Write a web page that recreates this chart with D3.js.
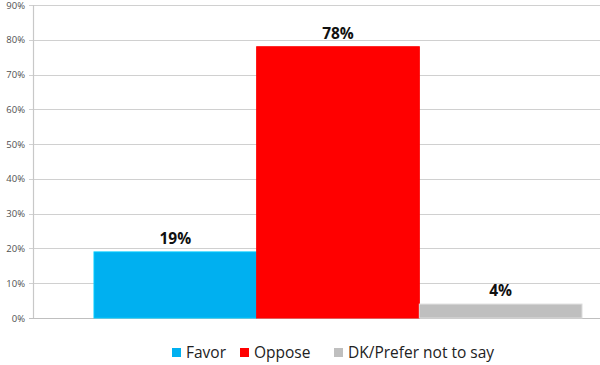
<!DOCTYPE html>
<html>
<head>
<meta charset="utf-8">
<script src="https://cdn.jsdelivr.net/npm/d3@7"></script>
<style>
  body { margin: 0; background: #fff; }
  svg { display: block; font-family: "Open Sans", "DejaVu Sans", sans-serif; }
</style>
</head>
<body>
<svg id="chart" width="600" height="365"></svg>
<script>
const series = ['Favor', 'Oppose', 'DK/Prefer not to say']
const values = [19, 78, 4]
const colors = ['#00b0f0', '#ff0000', '#bfbfbf']
const yTicks = [0, 10, 20, 30, 40, 50, 60, 70, 80, 90]

const svg = d3.select('#chart')

const margin = { left: 33, top: 5, bottom: 318 }

const y = d3.scaleLinear().domain([0, 90]).range([margin.bottom, margin.top])

// one group of bars, plot runs past the right edge of the picture
const x0 = d3.scaleBand().domain(['all']).range([margin.left, 643])
    .paddingInner(0.2).paddingOuter(0.1)
const x1 = d3.scaleBand().domain(series).range([0, x0.bandwidth()])

// gridlines
svg.append('g')
    .selectAll('line')
    .data(yTicks)
    .enter().append('line')
    .attr('x1', margin.left - 4)
    .attr('x2', 600)
    .attr('y1', d => Math.round(y(d)) + 0.5)
    .attr('y2', d => Math.round(y(d)) + 0.5)
    .attr('stroke', d => d == 0 ? '#bfbfbf' : '#d0d0d0')
    .attr('stroke-width', 1.2)

// y axis line
svg.append('line')
    .attr('x1', margin.left + 0.5).attr('x2', margin.left + 0.5)
    .attr('y1', y(90)).attr('y2', y(0))
    .attr('stroke', '#c8c8c8')
    .attr('stroke-width', 1.2)

svg.append('g')
    .selectAll('text')
    .data(yTicks)
    .enter().append('text')
    .attr('x', 25)
    .attr('y', d => y(d) + 3.5)
    .attr('text-anchor', 'end')
    .attr('font-size', 9.5)
    .attr('fill', '#505050')
    .text(d => d + '%')

const bars = svg.append('g')
    .attr('transform', `translate(${x0('all')},0)`)

bars.selectAll('rect')
    .data(values)
    .enter().append('rect')
    .attr('x', (d, i) => x1(series[i]))
    .attr('y', d => y(d))
    .attr('width', x1.bandwidth())
    .attr('height', d => y(0) - y(d))
    .attr('fill', (d, i) => colors[i])
    .attr('stroke', (d, i) => d3.color(colors[i]).brighter(0.4))
    .attr('stroke-width', 1)

bars.selectAll('text')
    .data(values)
    .enter().append('text')
    .attr('x', (d, i) => x1(series[i]) + x1.bandwidth() / 2)
    .attr('y', d => y(d) - 8)
    .attr('text-anchor', 'middle')
    .attr('font-size', 15.5)
    .attr('font-weight', 'bold')
    .attr('fill', '#111')
    .text(d => d + '%')

// legend
const legendX = [172, 240, 334]
const legend = svg.append('g')
    .selectAll('g')
    .data(series)
    .enter().append('g')
    .attr('transform', (d, i) => `translate(${legendX[i]},348)`)

legend.append('rect')
    .attr('width', 9).attr('height', 9)
    .attr('fill', (d, i) => colors[i])

legend.append('text')
    .attr('x', 14)
    .attr('y', 10)
    .attr('font-size', 15.5)
    .attr('fill', '#222')
    .text(d => d)
</script>
</body>
</html>
